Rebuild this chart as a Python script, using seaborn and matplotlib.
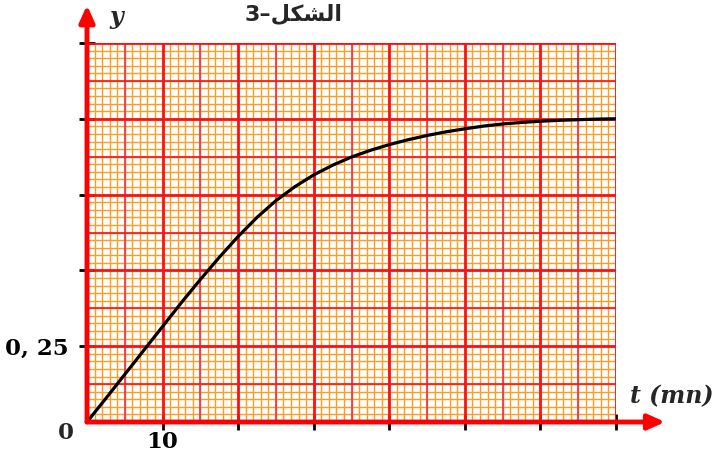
import numpy as np
import pandas as pd
import matplotlib
matplotlib.use("Agg")
import matplotlib.pyplot as plt
import seaborn as sns

# values (t in mn, y without unit)
t_vals = [0, 2.5, 5, 7.5, 10, 12.5, 15, 17.5, 20, 22.5, 25, 27.5, 30, 32.5,
          35, 37.5, 40, 42.5, 45, 47.5, 50, 52.5, 55, 57.5, 60, 62.5, 65,
          67.5, 70]
y_vals = [0, 0.078, 0.157, 0.236, 0.315, 0.394, 0.47, 0.543, 0.612, 0.675,
          0.73, 0.776, 0.815, 0.847, 0.874, 0.896, 0.915, 0.931, 0.945,
          0.957, 0.967, 0.976, 0.983, 0.988, 0.992, 0.995, 0.997, 0.999, 1.0]

x_ticks = [10, 20, 30, 40, 50, 60, 70]
x_ticklabels = ["10", "", "", "", "", "", ""]
y_ticks = [0.25, 0.5, 0.75, 1.0, 1.25]
y_ticklabels = ["0, 25", "", "", "", ""]

df = pd.DataFrame({"t": t_vals, "y": y_vals})

sns.set_style("white")
plt.rcParams["font.family"] = ["DejaVu Serif", "DejaVu Sans"]

fig = plt.figure(figsize=(7.16, 4.59), dpi=100)
ax = fig.add_axes([87 / 716, 37 / 459, 529 / 716, 379 / 459])
ax.set_xlim(0, 70)
ax.set_ylim(0, 1.25)

# graph paper
orange = "#FF9A22"
red = "#FF1010"
ax.vlines(np.arange(0, 71, 1), 0, 1.25, color=orange, lw=1.0, zorder=1)
ax.hlines(np.arange(0, 1.2501, 0.025), 0, 70, color=orange, lw=1.0, zorder=1)
ax.vlines(np.arange(5, 70, 10), 0, 1.25, color="#EE2E48", lw=1.2, zorder=2)
ax.hlines(np.arange(0.125, 1.25, 0.25), 0, 70, color=red, lw=1.2, zorder=2)
ax.vlines(np.arange(10, 71, 10), 0, 1.25, color=red, lw=2.0, zorder=2)
ax.hlines(np.arange(0.25, 1.2501, 0.25), 0, 70, color=red, lw=2.0, zorder=2)

sns.lineplot(data=df, x="t", y="y", color="black", lw=2.3, ax=ax, zorder=5)

for s in ax.spines.values():
    s.set_visible(False)

# axes arrows
arrow = dict(arrowstyle="-|>,head_length=1.0,head_width=0.45", color="red",
             lw=3.5, shrinkA=0, shrinkB=0)
ax.annotate("", xy=(0, 1.375), xytext=(0, 0), arrowprops=arrow,
            annotation_clip=False, zorder=6)
ax.annotate("", xy=(76.5, 0), xytext=(0, 0), arrowprops=arrow,
            annotation_clip=False, zorder=6)

ax.set_xticks(x_ticks)
ax.set_xticklabels(x_ticklabels)
ax.set_yticks(y_ticks)
ax.set_yticklabels(y_ticklabels)
ax.tick_params(axis="both", bottom=True, left=True, direction="inout",
               length=11, width=2, color="black", labelcolor="black",
               labelsize=16.5)
ax.tick_params(axis="x", pad=1)
ax.tick_params(axis="y", pad=8)
for lab in ax.get_xticklabels() + ax.get_yticklabels():
    lab.set_fontweight("bold")
ax.set_xlabel("")
ax.set_ylabel("")

ax.text(-2.8, -0.035, "0", fontsize=16.5, fontweight="bold",
        ha="center", va="center", clip_on=False)
ax.text(71.8, 0.085, "t (mn)", fontsize=17, fontweight="bold",
        fontstyle="italic", ha="left", va="center", clip_on=False)
ax.text(3.0, 1.335, "y", fontsize=17, fontweight="bold",
        fontstyle="italic", ha="left", va="center", clip_on=False)

# title "الشكل–3" in visual order with shaped forms
fig.text(0.41, 2 / 459 + 1 - 23 / 459, "3\u2013\uFEDE\uFEDC\uFEB8\uFEDF\uFE8D",
         fontsize=16, fontweight="bold", family=["DejaVu Sans"],
         ha="center", va="baseline")

fig.savefig("out.png", dpi=100)
